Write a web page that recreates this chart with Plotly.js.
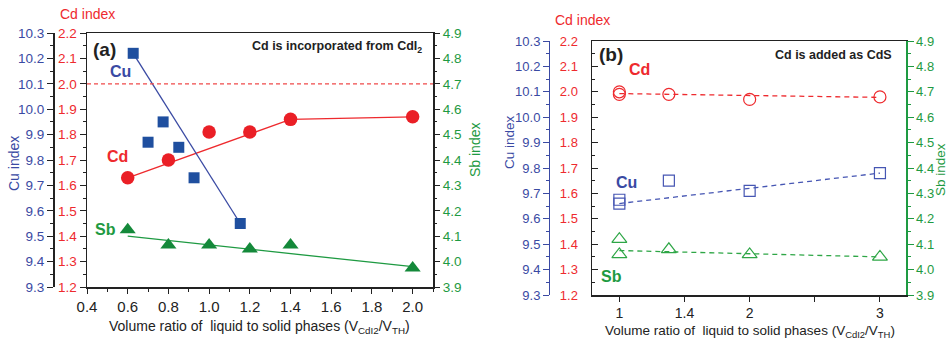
<!DOCTYPE html>
<html>
<head>
<meta charset="utf-8">
<script src="https://cdn.plot.ly/plotly-3.0.1.min.js"></script>
<style>html,body{margin:0;padding:0;background:#fff;}#chart{width:951px;height:341px;}</style>
</head>
<body>
<div id="chart"></div>
<script>
// ---------- Panel (a): Cd incorporated from CdI2 ----------
const aCuX = [0.627, 0.70, 0.774, 0.851, 0.926, 1.153];
const aCuY = [10.22, 9.87, 9.95, 9.85, 9.73, 9.55];
const aCuFitX = [0.627, 1.153];
const aCuFitY = [10.22, 9.55];

const aCdX = [0.6, 0.8, 1.0, 1.2, 1.4, 2.0];
const aCdY = [1.63, 1.70, 1.81, 1.81, 1.86, 1.87];
const aCdFitX = [0.6, 1.4, 2.0];
const aCdFitY = [1.63, 1.86, 1.87];
const aCdRef = 2.0;

const aSbX = [0.6, 0.8, 1.0, 1.2, 1.4, 2.0];
const aSbY = [4.125, 4.065, 4.065, 4.05, 4.065, 3.975];
const aSbFitX = [0.6, 2.0];
const aSbFitY = [4.10, 3.98];

// ---------- Panel (b): Cd added as CdS ----------
const bX = [1, 1, 1.38, 2, 3];
const bCdY = [2.00, 1.99, 1.99, 1.97, 1.98];
const bCuY = [9.675, 9.66, 9.75, 9.71, 9.78];
const bSbY = [4.12, 4.06, 4.08, 4.06, 4.05];
const bFitX = [1, 3];
const bCdFitY = [1.993, 1.978];
const bCuFitY = [9.66, 9.78];
const bSbFitY = [4.075, 4.05];

const bTickVals = [1, 1.5, 2, 3];
const bTickText = ['1', '1.4', '2', '3'];
const bMinorTickVals = [2.5];

// ---------- styling ----------
const W = 951, H = 341;
const P = px => px / W;
const Q = py => 1 - py / H;
const FONT = 'Arial, "Liberation Sans", sans-serif';
const BLUE = '#3a4aa3', BLUE_M = '#1f4f9f';
const RED = '#ee2a2e', RED_M = '#ea1f26';
const GREEN = '#1e9a42', GREEN_M = '#14893a';
const BLACK = '#222222';

const traces = [
  // panel a
  {x: aCdFitX, y: aCdFitY, xaxis: 'x', yaxis: 'y', mode: 'lines', line: {color: RED, width: 1.3}, hoverinfo: 'skip'},
  {x: aCdX, y: aCdY, xaxis: 'x', yaxis: 'y', mode: 'markers', marker: {symbol: 'circle', size: 13.5, color: RED_M}},
  {x: aCuFitX, y: aCuFitY, xaxis: 'x', yaxis: 'y2', mode: 'lines', line: {color: BLUE, width: 1.3}, hoverinfo: 'skip'},
  {x: aCuX, y: aCuY, xaxis: 'x', yaxis: 'y2', mode: 'markers', marker: {symbol: 'square', size: 11, color: BLUE_M}},
  {x: aSbFitX, y: aSbFitY, xaxis: 'x', yaxis: 'y3', mode: 'lines', line: {color: GREEN, width: 1.3}, hoverinfo: 'skip'},
  {x: aSbX, y: aSbY, xaxis: 'x', yaxis: 'y3', mode: 'markers', marker: {symbol: 'triangle-up', size: 14, color: GREEN_M}},
  // panel b
  {x: bFitX, y: bCdFitY, xaxis: 'x2', yaxis: 'y4', mode: 'lines', line: {color: RED, width: 1.3, dash: '5px,4px'}, hoverinfo: 'skip'},
  {x: bX, y: bCdY, xaxis: 'x2', yaxis: 'y4', mode: 'markers', marker: {symbol: 'circle-open', size: 12, color: RED, line: {width: 1.2}}},
  {x: bFitX, y: bCuFitY, xaxis: 'x2', yaxis: 'y5', mode: 'lines', line: {color: '#4656b3', width: 1.3, dash: '5px,4px'}, hoverinfo: 'skip'},
  {x: bX, y: bCuY, xaxis: 'x2', yaxis: 'y5', mode: 'markers', marker: {symbol: 'square-open', size: 11, color: '#4656b3', line: {width: 1.2}}},
  {x: bFitX, y: bSbFitY, xaxis: 'x2', yaxis: 'y6', mode: 'lines', line: {color: '#2ea646', width: 1.3, dash: '5px,4px'}, hoverinfo: 'skip'},
  {x: bX, y: bSbY, xaxis: 'x2', yaxis: 'y6', mode: 'markers', marker: {symbol: 'triangle-up-open', size: 13, color: '#2ea646', line: {width: 1.2}}}
];

const tf = (c, s) => ({family: FONT, size: s || 13.5, color: c});
const minorY = (dir, c) => ({dtick: 0.05, ticks: dir, ticklen: 3, tickcolor: c, tickwidth: 1});

const layout = {
  width: W, height: H,
  margin: {l: 0, r: 0, t: 0, b: 0},
  paper_bgcolor: '#ffffff', plot_bgcolor: 'rgba(0,0,0,0)',
  showlegend: false,
  font: {family: FONT, color: BLACK},
  xaxis: {
    domain: [P(87), P(433)], anchor: 'y', range: [0.4, 2.1],
    tick0: 0.4, dtick: 0.2, tickformat: '.1f', ticks: 'outside', ticklen: 5, tickcolor: BLACK,
    minor: {dtick: 0.1, ticks: 'outside', ticklen: 3, tickcolor: BLACK},
    showline: true, linecolor: BLACK, linewidth: 1.5, mirror: true,
    showgrid: false, zeroline: false, tickfont: tf(BLACK, 15)
  },
  yaxis: {
    domain: [Q(287), Q(33)], anchor: 'x', range: [1.2, 2.2],
    dtick: 0.1, tickformat: '.1f', ticks: 'outside', ticklen: 6, tickcolor: BLACK,
    minor: minorY('outside', BLACK),
    showline: true, linecolor: BLACK, linewidth: 1.5, mirror: true,
    showgrid: false, zeroline: false, tickfont: tf(RED)
  },
  yaxis2: {
    overlaying: 'y', anchor: 'free', position: P(53), side: 'left', range: [9.3, 10.3],
    dtick: 0.1, tickformat: '.1f', ticks: 'outside', ticklen: 6, tickcolor: BLACK,
    minor: minorY('outside', BLACK),
    showline: true, linecolor: BLACK, linewidth: 1.5,
    showgrid: false, zeroline: false, tickfont: tf(BLUE)
  },
  yaxis3: {
    overlaying: 'y', anchor: 'x', side: 'right', range: [3.9, 4.9],
    dtick: 0.1, tickformat: '.1f', ticks: 'outside', ticklen: 6, tickcolor: BLACK,
    minor: minorY('outside', BLACK),
    showline: false, showgrid: false, zeroline: false, tickfont: tf(GREEN)
  },
  xaxis2: {
    domain: [P(592), P(906)], anchor: 'y4', range: [0.79, 3.2],
    tickmode: 'array', tickvals: bTickVals, ticktext: bTickText,
    ticks: 'outside', ticklen: 5, tickcolor: BLACK,
    minor: {tickmode: 'array', tickvals: bMinorTickVals, ticks: 'outside', ticklen: 5, tickcolor: BLACK},
    showline: true, linecolor: BLACK, linewidth: 1.5, mirror: true,
    showgrid: false, zeroline: false, tickfont: tf(BLACK, 14)
  },
  yaxis4: {
    domain: [Q(295), Q(41)], anchor: 'x2', range: [1.2, 2.2],
    dtick: 0.1, tickformat: '.1f', ticks: 'inside', ticklen: 6, tickcolor: BLACK,
    minor: minorY('inside', BLACK), ticklabelstandoff: 10,
    showline: true, linecolor: BLACK, linewidth: 1.5, mirror: false,
    showgrid: false, zeroline: false, tickfont: tf(RED, 13)
  },
  yaxis5: {
    overlaying: 'y4', anchor: 'free', position: P(549), side: 'left', range: [9.3, 10.3],
    dtick: 0.1, tickformat: '.1f', ticks: 'outside', ticklen: 6, tickcolor: BLUE,
    minor: minorY('outside', BLUE),
    showline: true, linecolor: BLUE, linewidth: 1.3,
    showgrid: false, zeroline: false, tickfont: tf(BLUE, 13)
  },
  yaxis6: {
    overlaying: 'y4', anchor: 'x2', side: 'right', range: [3.9, 4.9],
    dtick: 0.1, tickformat: '.1f', ticks: 'outside', ticklen: 6, tickcolor: GREEN,
    minor: minorY('outside', GREEN),
    showline: true, linecolor: GREEN, linewidth: 1.5,
    showgrid: false, zeroline: false, tickfont: tf(GREEN, 13)
  },
  shapes: [
    {type: 'line', xref: 'x domain', yref: 'y', x0: 0, x1: 1, y0: aCdRef, y1: aCdRef,
     line: {color: '#f04a4a', width: 1.2, dash: '4px,3px'}}
  ],
  annotations: [
    {text: '<b>(a)</b>', x: P(91), y: Q(50), xanchor: 'left', font: {size: 19, color: BLACK}},
    {text: '<b>Cd is incorporated from CdI<sub>2</sub></b>', x: P(424), y: Q(47), xanchor: 'right', font: {size: 12.5, color: BLACK}},
    {text: '<b>Cu</b>', x: P(120), y: Q(71), font: {size: 16, color: BLUE}},
    {text: '<b>Cd</b>', x: P(117), y: Q(156), font: {size: 16, color: RED}},
    {text: '<b>Sb</b>', x: P(105), y: Q(230), font: {size: 16, color: GREEN}},
    {text: 'Cd index', x: P(87), y: Q(14), font: {size: 14, color: RED}},
    {text: 'Cu index', x: P(14), y: Q(164), textangle: -90, font: {size: 14, color: BLUE}},
    {text: 'Sb index', x: P(475), y: Q(150), textangle: -90, font: {size: 14, color: GREEN}},
    {text: 'Volume ratio of\u00a0 liquid to solid phases (V<sub>CdI2</sub>/V<sub>TH</sub>)', x: P(259), y: Q(327), font: {size: 14, color: BLACK}},
    {text: '<b>(b)</b>', x: P(597), y: Q(55), xanchor: 'left', font: {size: 19, color: BLACK}},
    {text: '<b>Cd is added as CdS</b>', x: P(894), y: Q(55), xanchor: 'right', font: {size: 12.5, color: BLACK}},
    {text: '<b>Cd</b>', x: P(639), y: Q(69), font: {size: 16, color: RED}},
    {text: '<b>Cu</b>', x: P(626), y: Q(182), font: {size: 16, color: BLUE}},
    {text: '<b>Sb</b>', x: P(611), y: Q(276), font: {size: 16, color: GREEN}},
    {text: 'Cd index', x: P(582), y: Q(20), font: {size: 14, color: RED}},
    {text: 'Cu index', x: P(509), y: Q(142), textangle: -90, font: {size: 13.5, color: BLUE}},
    {text: 'Sb index', x: P(940), y: Q(170), textangle: -90, font: {size: 13.5, color: GREEN}},
    {text: 'Volume ratio of\u00a0 liquid to solid phases (V<sub>CdI2</sub>/V<sub>TH</sub>)', x: P(750), y: Q(331), font: {size: 13.5, color: BLACK}}
  ].map(a => Object.assign({xref: 'paper', yref: 'paper', showarrow: false, yanchor: 'middle', xanchor: a.xanchor || 'center'}, a))
};

Plotly.newPlot('chart', traces, layout, {displayModeBar: false, staticPlot: true});
</script>
</body>
</html>
